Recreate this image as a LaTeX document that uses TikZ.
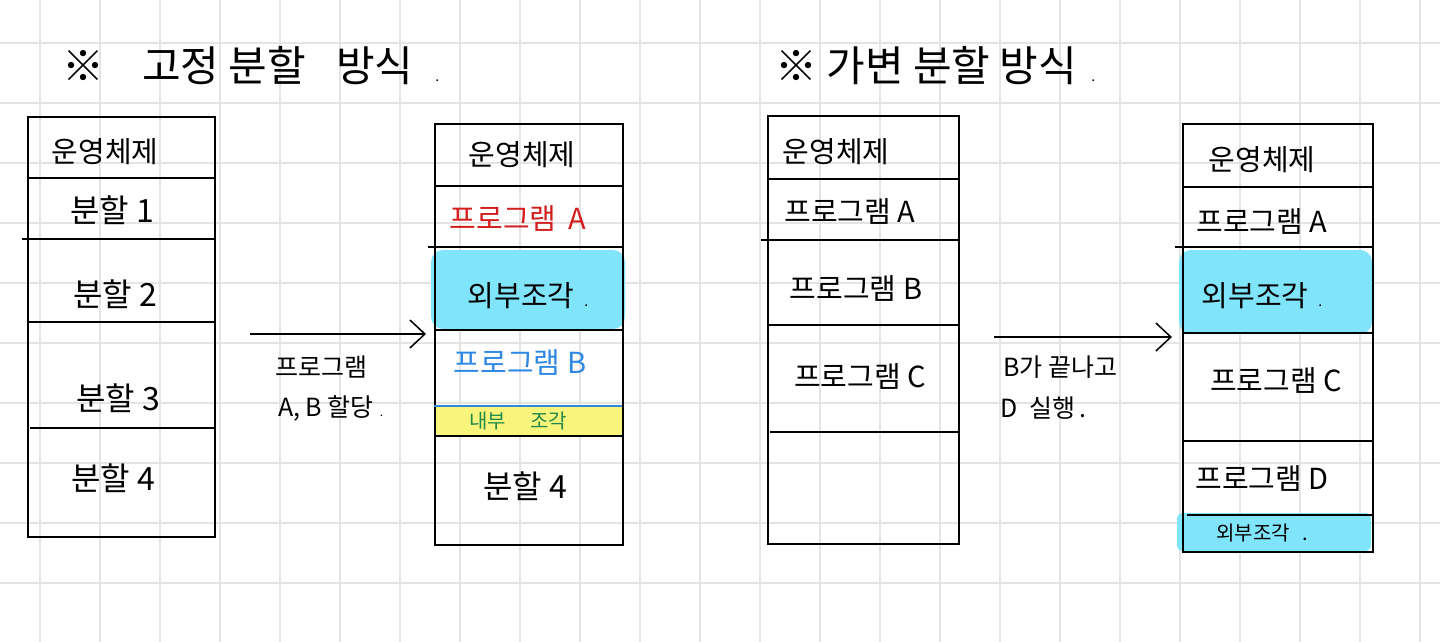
\documentclass[tikz,border=0pt]{standalone}
\usepackage{fontspec}
\setmainfont{Noto Sans CJK KR}
\usetikzlibrary{arrows.meta}
\definecolor{gridc}{HTML}{E4E4E4}
\definecolor{hlcyan}{HTML}{80E4FA}
\definecolor{hlyellow}{HTML}{F9F57C}
\definecolor{pred}{HTML}{D21E1E}
\definecolor{pblue}{HTML}{2F88E3}
\definecolor{pgreen}{HTML}{1F8A45}
\tikzset{
  membox/.style={draw=black, line width=1.5pt, minimum width=#1, anchor=north west, inner sep=0pt},
  divider/.style={line width=1.3pt},
  lbl/.style={font=\fontsize{29}{32}\selectfont, inner sep=0pt},
  lblbig/.style={font=\fontsize{32}{35}\selectfont, inner sep=0pt},
  lblsmall/.style={font=\fontsize{20}{22}\selectfont, inner sep=0pt},
  note/.style={font=\fontsize{25}{28}\selectfont, inner sep=0pt, anchor=west},
  title/.style={font=\fontsize{42}{46}\selectfont, inner sep=0pt, anchor=west},
  flow/.style={line width=1.5pt, -{Straight Barb[length=15pt,width=28pt,line width=1.5pt]}},
  hl/.style={rounded corners=12pt},
}
\begin{document}
\begin{tikzpicture}[x=1pt,y=-1pt]
\useasboundingbox (0,0) rectangle (1440,642);
\fill[white] (0,0) rectangle (1440,642);
% grid
\foreach \gx in {40,100,...,1420} \draw[gridc, line width=1.4pt] (\gx,0) -- (\gx,642);
\foreach \gy in {43,103,...,583} \draw[gridc, line width=1.4pt] (0,\gy) -- (1440,\gy);

% titles
\node[title] (t1) at (62,66) {※\hspace{38pt}고정 분할\hspace{30pt}방식\hspace{22pt}{\fontsize{14}{14}\selectfont .}};
\node[title] (t2) at (775,66) {※ 가변 분할 방식\hspace{14pt}{\fontsize{14}{14}\selectfont .}};

% ---------- box 1 ----------
\node[membox=187pt, minimum height=420pt] (b1) at (27,116) {};
\draw[divider] (27,178) -- (214,178);
\draw[divider] (22,239) -- (214,239);
\draw[divider] (27,322) -- (214,322);
\draw[divider] (30,428) -- (214,428);
\node[lbl] (b1os) at (105,152) {운영체제};
\node[lblbig] (b1p1) at (112,210) {분할 1};
\node[lblbig] (b1p2) at (115,294) {분할 2};
\node[lblbig] (b1p3) at (118,398) {분할 3};
\node[lblbig] (b1p4) at (113,478) {분할 4};

% ---------- box 2 ----------
\fill[hlcyan, hl] (431,250) rectangle (625,329);
\fill[hlyellow] (434,406) rectangle (622,436);
\node[membox=188pt, minimum height=421pt] (b2) at (434,123) {};
\draw[divider] (434,186) -- (622,186);
\draw[divider] (428,247) -- (622,247);
\draw[divider] (434,330) -- (622,330);
\draw[divider, pblue] (434,406) -- (622,406);
\draw[divider] (434,436) -- (622,436);
\node[lbl] (b2os) at (522,155) {운영체제};
\node[lbl, text=pred] (b2pa) at (518,218) {프로그램\hspace{12pt}A};
\node[lbl] (b2ext) at (528,296) {외부조각\hspace{10pt}{\fontsize{14}{14}\selectfont .}};
\node[lbl, text=pblue] (b2pb) at (520,362) {프로그램 B};
\node[lblsmall, text=pgreen] (b2int) at (518,421) {내부\hspace{24pt}조각};
\node[lblbig] (b2p4) at (525,486) {분할 4};

% ---------- box 3 ----------
\node[membox=191pt, minimum height=428pt] (b3) at (767,115) {};
\draw[divider] (767,179) -- (958,179);
\draw[divider] (761,240) -- (958,240);
\draw[divider] (767,325) -- (958,325);
\draw[divider] (770,432) -- (958,432);
\node[lbl] (b3os) at (836,152) {운영체제};
\node[lbl] (b3pa) at (850,211) {프로그램 A};
\node[lbl] (b3pb) at (856,288) {프로그램 B};
\node[lbl] (b3pc) at (860,376) {프로그램 C};

% ---------- box 4 ----------
\fill[hlcyan, hl] (1179,250) rectangle (1372,334);
\fill[hlcyan, rounded corners=6pt] (1177,513) rectangle (1371,551);
\node[membox=190pt, minimum height=428pt] (b4) at (1182,123) {};
\draw[divider] (1182,187) -- (1372,187);
\draw[divider] (1175,247) -- (1372,247);
\draw[divider] (1182,333) -- (1372,333);
\draw[divider] (1182,441) -- (1372,441);
\draw[divider] (1187,515) -- (1372,515);
\node[lbl] (b4os) at (1262,160) {운영체제};
\node[lbl] (b4pa) at (1262,221) {프로그램 A};
\node[lbl] (b4ext) at (1262,296) {외부조각\hspace{10pt}{\fontsize{14}{14}\selectfont .}};
\node[lbl] (b4pc) at (1276,380) {프로그램 C};
\node[lbl] (b4pd) at (1262,478) {프로그램 D};
\node[lblsmall] (b4ext2) at (1262,533) {외부조각\hspace{12pt}.};

% ---------- arrows ----------
\coordinate (a1s) at (250,334);
\coordinate (a1e) at (426,334);
\draw[flow] (a1s) -- (a1e);
\node[note] (l1a) at (275,367) {프로그램};
\node[note] (l1b) at (278,408) {A, B 할당\hspace{6pt}{\fontsize{12}{12}\selectfont .}};

\coordinate (a2s) at (994,337);
\coordinate (a2e) at (1172,337);
\draw[flow] (a2s) -- (a2e);
\node[note] (l2a) at (1003,367) {B가 끝나고};
\node[note] (l2b) at (1000,408) {D\hspace{12pt}실행\hspace{4pt}.};
\end{tikzpicture}
\end{document}
